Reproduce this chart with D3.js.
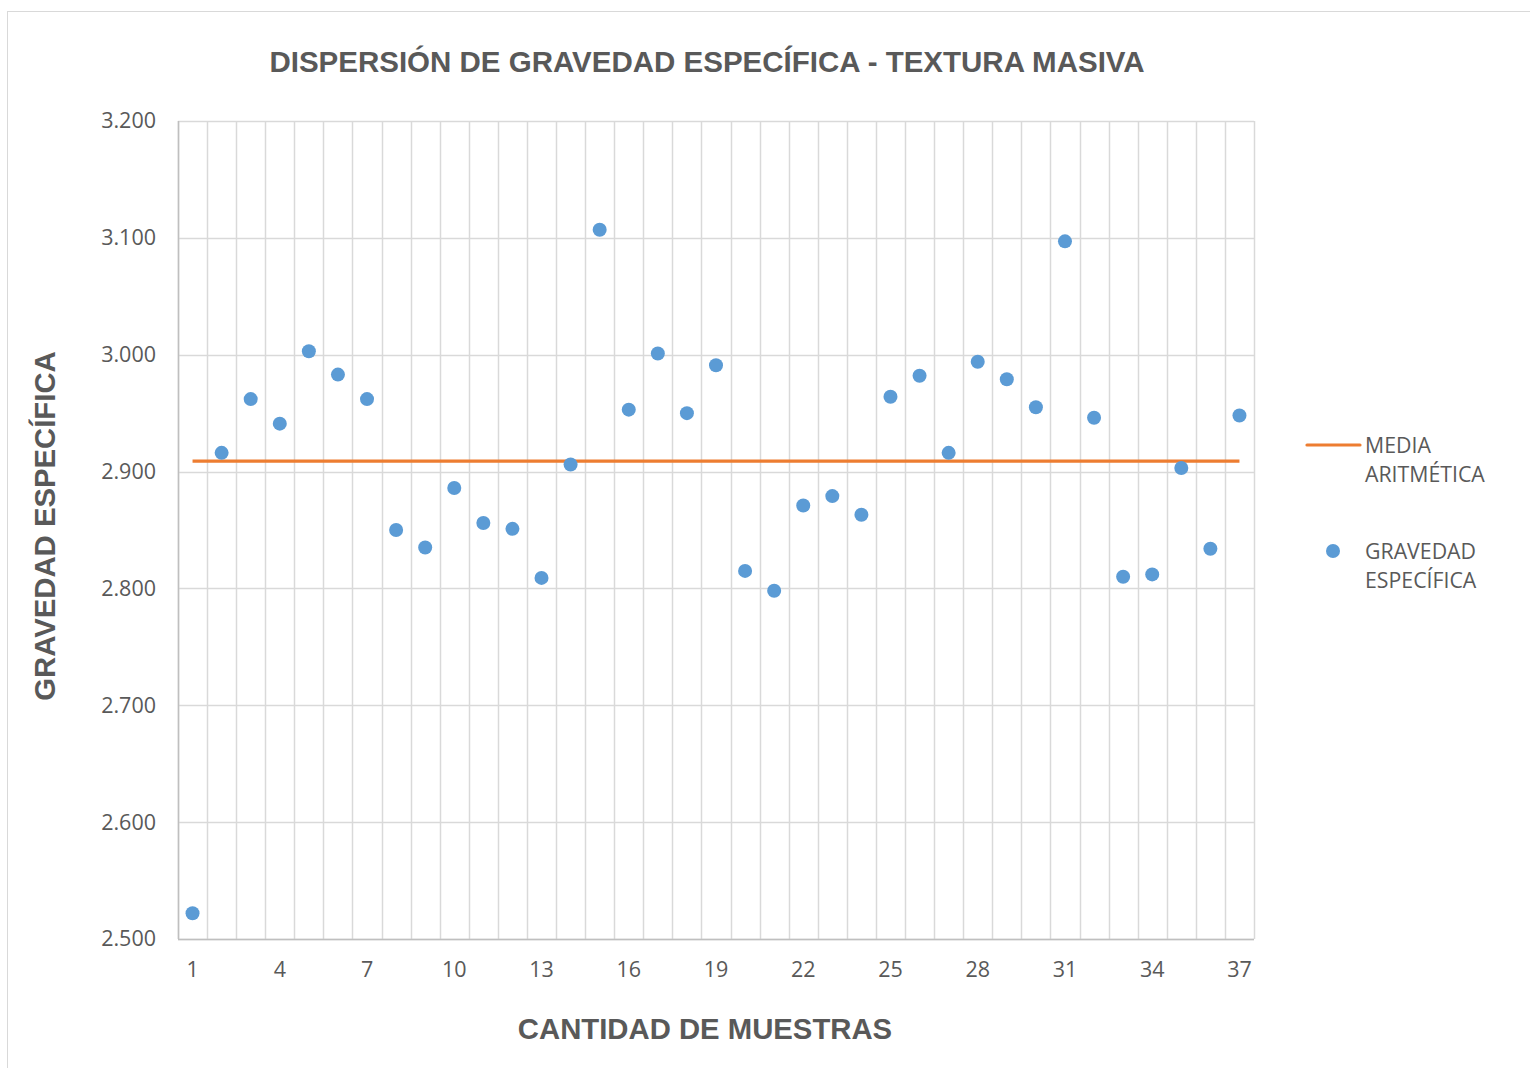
<!DOCTYPE html>
<html><head><meta charset="utf-8">
<script src="https://cdn.jsdelivr.net/npm/d3@7"></script>
<style>body{margin:0;background:#fff}svg{display:block}</style>
</head><body><svg id="c" width="1530" height="1068"></svg>
<script>
const samples = d3.range(1, 38);
const gravedad = [2.522,2.916,2.962,2.941,3.003,2.983,2.962,2.850,2.835,2.886,2.856,2.851,2.809,2.906,3.107,2.953,3.001,2.950,2.991,2.815,2.798,2.871,2.879,2.863,2.964,2.982,2.916,2.994,2.979,2.955,3.097,2.946,2.810,2.812,2.903,2.834,2.948];
const mediaValue = [2.909];
const yTicks = [2.5,2.6,2.7,2.8,2.9,3.0,3.1,3.2];
const xTickLabels = [1,4,7,10,13,16,19,22,25,28,31,34,37];
const legendLabels = [["MEDIA","ARITMÉTICA"],["GRAVEDAD","ESPECÍFICA"]];

const svg = d3.select("#c");
const L=178, R=1254, T=121, B=939;
const grid="#d9d9d9", txt="#595959";
svg.append("rect").attr("x",7.5).attr("y",11.5).attr("width",1540).attr("height",1070).attr("fill","#fff").attr("stroke","#d9d9d9");

const x = d3.scaleBand().domain(samples).range([L,R]);
const y = d3.scaleLinear().domain([2.5,3.2]).range([B,T]);

svg.append("g").selectAll("line").data(yTicks).join("line")
 .attr("x1",L).attr("x2",R).attr("y1",d=>Math.round(y(d))+0.5).attr("y2",d=>Math.round(y(d))+0.5)
 .attr("stroke",grid).attr("stroke-width",1.5);
const bounds = samples.map(s=>x(s)).concat([R]);
svg.append("g").selectAll("line").data(bounds).join("line")
 .attr("x1",d=>Math.round(d)+0.5).attr("x2",d=>Math.round(d)+0.5).attr("y1",T).attr("y2",B)
 .attr("stroke",grid).attr("stroke-width",1.5);
svg.append("line").attr("x1",L+0.5).attr("x2",L+0.5).attr("y1",T).attr("y2",B).attr("stroke","#bfbfbf").attr("stroke-width",1.5);
svg.append("line").attr("x1",L).attr("x2",R).attr("y1",B+0.5).attr("y2",B+0.5).attr("stroke","#bfbfbf").attr("stroke-width",1.5);

const yAxis = d3.axisLeft(y).tickValues(yTicks).tickFormat(d3.format(".3f")).tickSize(0).tickPadding(22);
const gy = svg.append("g").attr("transform",`translate(${L},0)`).call(yAxis);
gy.select(".domain").remove();
gy.selectAll("text").attr("font-family","Open Sans").attr("font-size",21.5).attr("fill",txt);

const xAxis = d3.axisBottom(x).tickValues(xTickLabels).tickSize(0).tickPadding(23);
const gx = svg.append("g").attr("transform",`translate(0,${B})`).call(xAxis);
gx.select(".domain").remove();
gx.selectAll("text").attr("font-family","Open Sans").attr("font-size",21.5).attr("fill",txt);

const cx = d=>x(d)+x.bandwidth()/2;
const line = d3.line().x(d=>cx(d)).y(()=>y(mediaValue[0]));
svg.append("path").datum([samples[0],samples[samples.length-1]]).attr("d",line)
 .attr("stroke","#ed7d31").attr("stroke-width",3.2).attr("fill","none");

svg.append("g").selectAll("circle").data(samples).join("circle")
 .attr("cx",d=>cx(d)).attr("cy",(d,i)=>y(gravedad[i])).attr("r",7).attr("fill","#5b9bd5");

const tf = "Liberation Sans, Arial";
svg.append("text").attr("x",707).attr("y",72).attr("text-anchor","middle")
 .attr("font-family",tf).attr("font-weight","bold").attr("font-size",29.5).attr("fill",txt)
 .text("DISPERSIÓN DE GRAVEDAD ESPECÍFICA - TEXTURA MASIVA");
svg.append("text").attr("x",705).attr("y",1039).attr("text-anchor","middle")
 .attr("font-family",tf).attr("font-weight","bold").attr("font-size",29.3).attr("fill",txt)
 .text("CANTIDAD DE MUESTRAS");
svg.append("text").attr("transform","translate(55,526) rotate(-90)").attr("text-anchor","middle")
 .attr("font-family",tf).attr("font-weight","bold").attr("font-size",29.3).attr("fill",txt)
 .text("GRAVEDAD ESPECÍFICA");

const lg = svg.append("g");
lg.append("line").attr("x1",1307).attr("x2",1360).attr("y1",445).attr("y2",445).attr("stroke","#ed7d31").attr("stroke-width",3.2).attr("stroke-linecap","round");
lg.append("circle").attr("cx",1333).attr("cy",551).attr("r",7).attr("fill","#5b9bd5");
const ly=[453,559];
legendLabels.forEach((lab,i)=>{
  lab.forEach((t,j)=>{
    lg.append("text").attr("x",1365).attr("y",ly[i]+j*29).attr("font-family","Open Sans").attr("font-size",21.3).attr("fill",txt).text(t);
  });
});
</script></body></html>
